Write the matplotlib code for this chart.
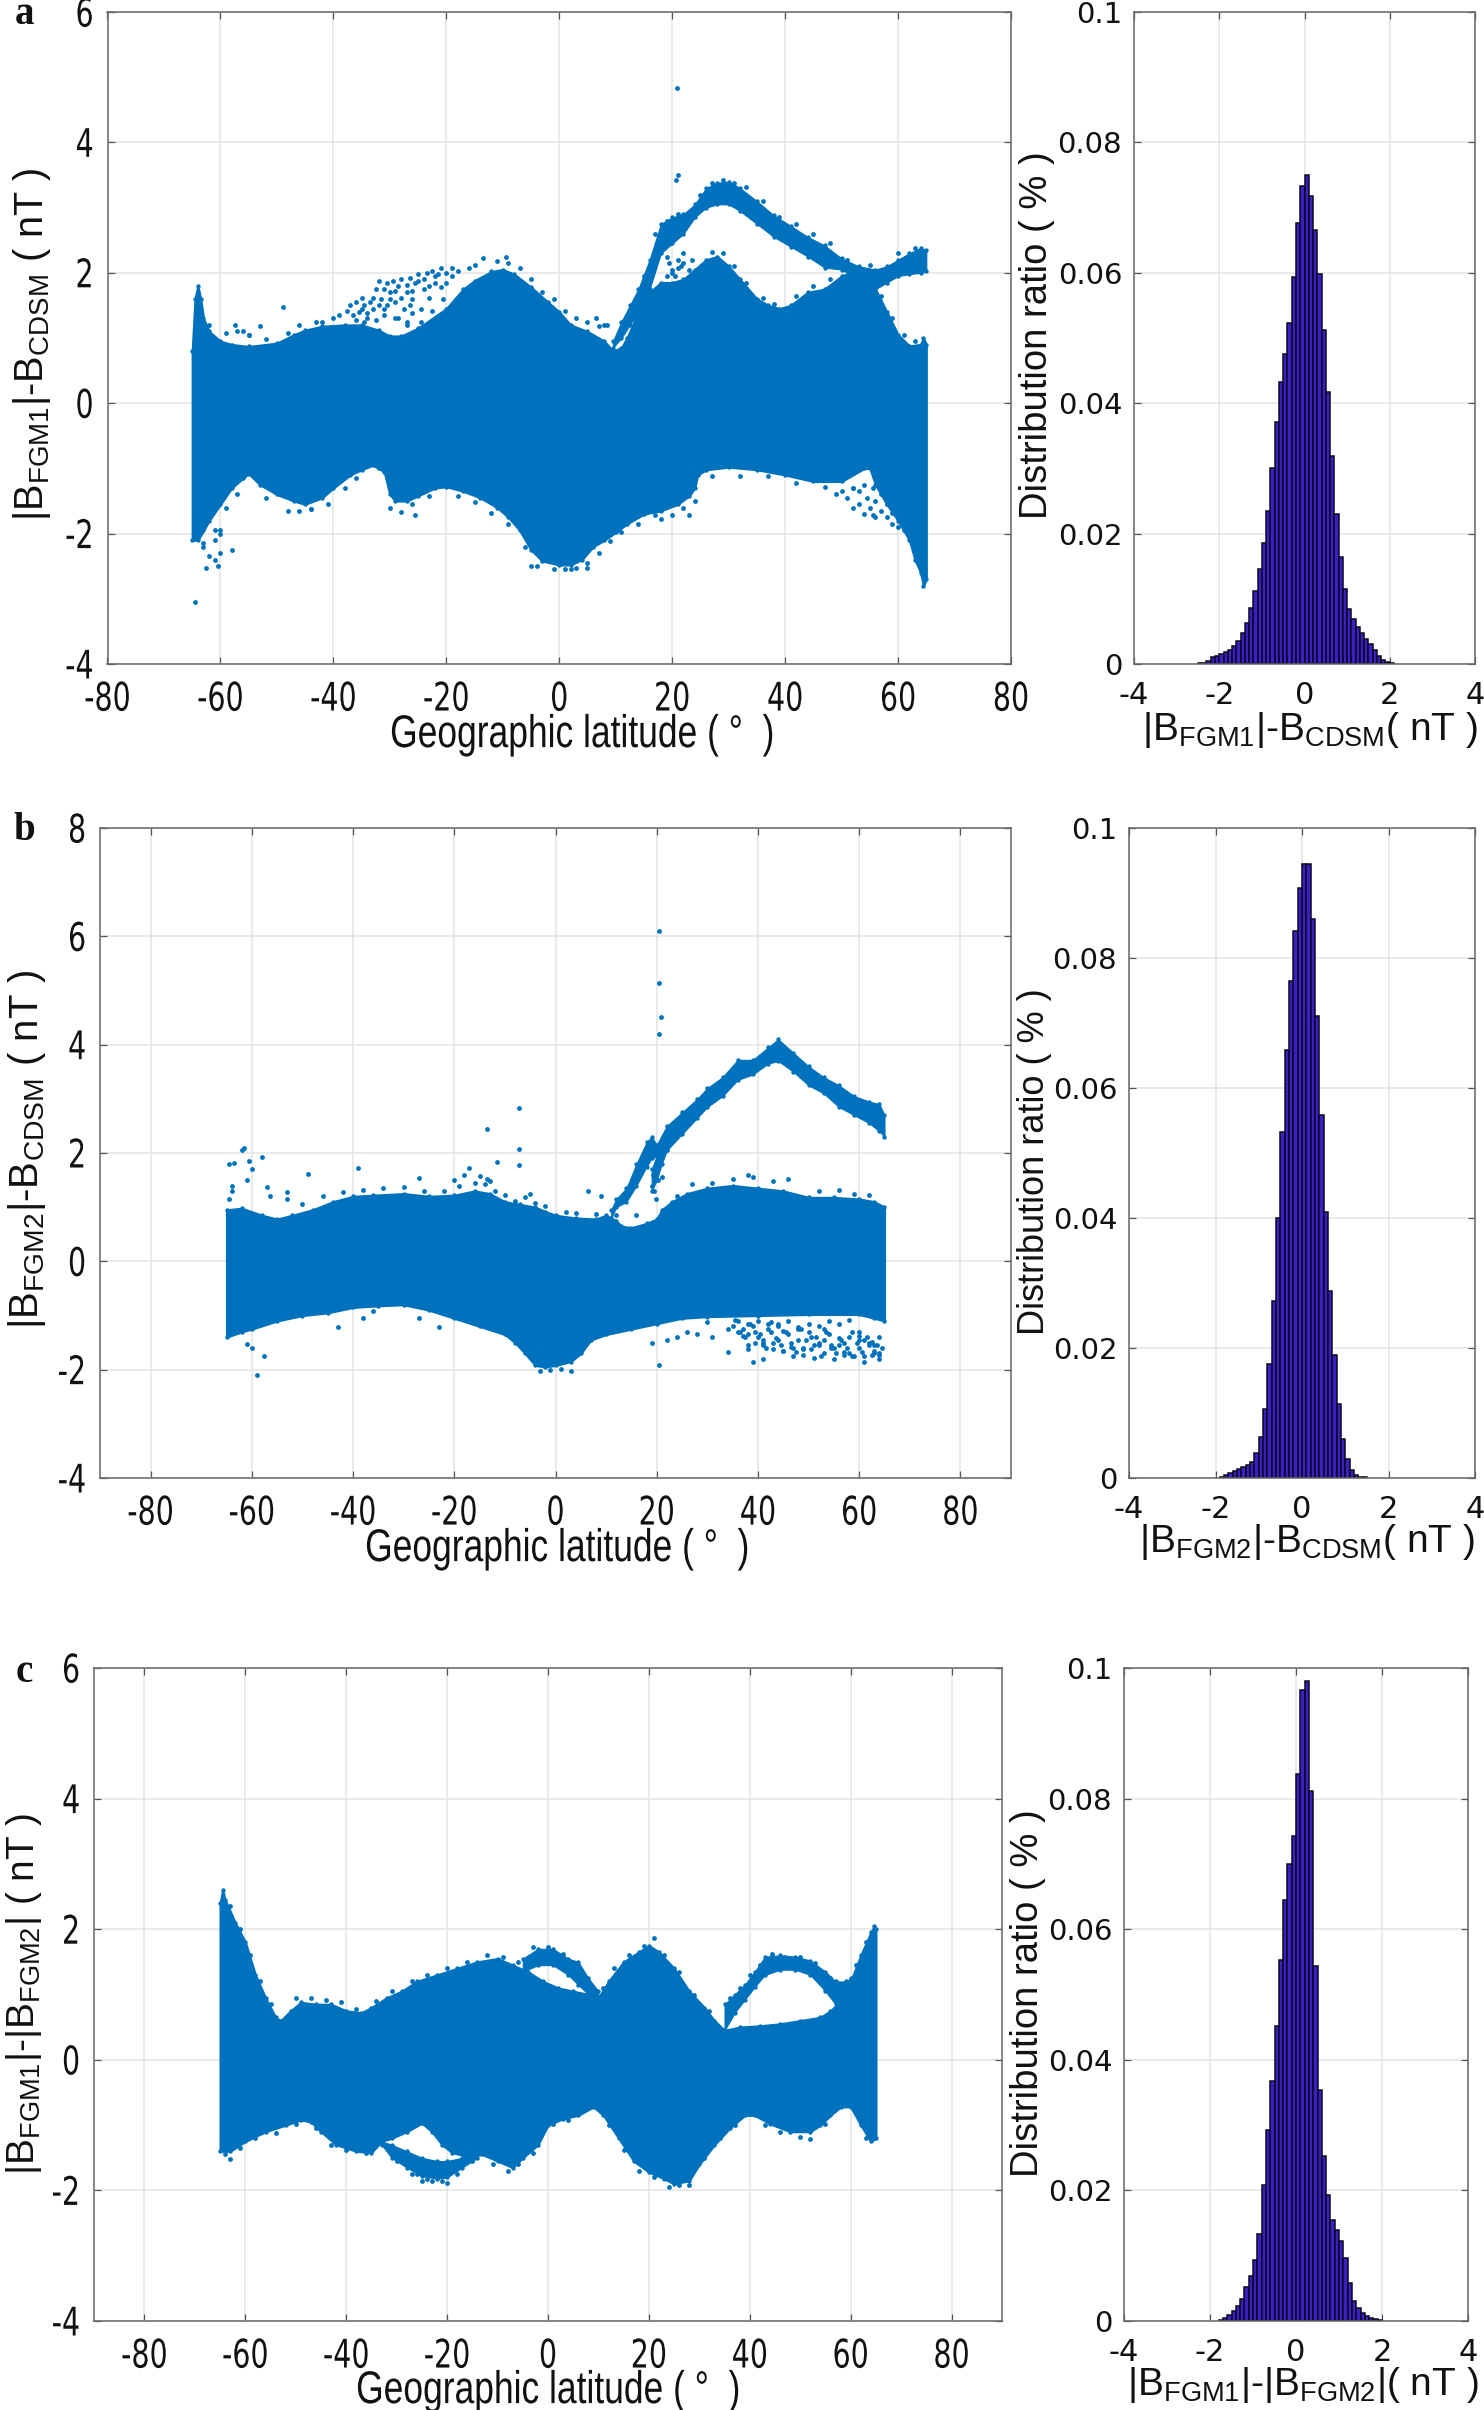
"""Latitude scatter envelopes and difference histograms (three panels)."""

import numpy as np
import matplotlib
matplotlib.use("Agg")
import matplotlib.pyplot as plt
from matplotlib.patheffects import AbstractPathEffect
from matplotlib.transforms import Affine2D

W, H = 1484, 2410
BLUE = "#0071BC"
BAR = "#3A1FC4"

plt.rcParams["mathtext.fontset"] = "custom"
plt.rcParams["mathtext.rm"] = "Liberation Sans"
plt.rcParams["mathtext.default"] = "rm"
plt.rcParams["axes.unicode_minus"] = False

# Panel a: main mass outline
a_up_lat = [-65, -64.5, -64, -63.5, -63, -62, -60, -58, -55, -50, -47, -45, -42, -38, -35, -32, -30, -28, -25, -20, -17, -15, -12, -10, -8, -5, -2, 0, 2, 5, 8, 9.5, 11, 12, 14, 16, 18, 20, 22, 24, 26, 28, 30, 32, 35, 37, 39, 41, 44, 47, 50, 52, 54, 56, 58, 60, 62, 64, 64.5, 65]
a_up = [0.8, 1.6, 1.8, 1.6, 1.3, 1.1, 0.95, 0.9, 0.87, 0.92, 1.05, 1.12, 1.18, 1.2, 1.2, 1.12, 1.03, 1.03, 1.15, 1.45, 1.75, 1.88, 2.02, 2.05, 1.98, 1.78, 1.55, 1.4, 1.2, 1.1, 0.95, 0.8, 0.85, 1.0, 1.4, 1.7, 1.85, 1.85, 1.9, 2.05, 2.2, 2.25, 2.1, 1.9, 1.6, 1.5, 1.45, 1.5, 1.7, 1.75, 1.95, 2.02, 1.95, 1.75, 1.4, 1.05, 0.88, 0.9, 1.0, 0.9]
a_lo_lat = [-65, -64, -63, -62, -60, -58, -56, -55, -53, -50, -47, -45, -42, -40, -37, -35, -33, -31, -30, -29, -27, -25, -22, -20, -17, -14, -11, -9, -7, -5, -3, 0, 2, 4, 6, 8, 10, 12, 15, 18, 21, 23, 24, 24.5, 26, 30, 35, 40, 45, 50, 54, 55, 56, 58, 60, 62, 63, 64, 64.5, 65]
a_lo = [-2.1, -2.1, -1.95, -1.8, -1.55, -1.3, -1.15, -1.08, -1.25, -1.4, -1.5, -1.55, -1.45, -1.3, -1.1, -1.02, -0.95, -1.05, -1.4, -1.5, -1.5, -1.42, -1.3, -1.28, -1.35, -1.45, -1.6, -1.75, -1.95, -2.25, -2.42, -2.48, -2.48, -2.4, -2.2, -2.1, -1.98, -1.85, -1.7, -1.65, -1.55, -1.42, -1.3, -1.1, -1.02, -0.98, -1.02, -1.1, -1.2, -1.2, -1.0, -1.0, -1.25, -1.55, -1.8, -2.1, -2.4, -2.6, -2.8, -2.7]

# Panel a: separated arc
a_arc_lat = [9.5, 11, 12.5, 14, 16, 18, 20, 22, 24, 26, 28, 30, 32, 35, 38, 41, 44, 47, 50, 53, 56, 58, 60, 62, 64, 65]
a_arc_hi = [0.95, 1.25, 1.5, 1.75, 2.2, 2.75, 2.85, 2.9, 3.05, 3.3, 3.38, 3.4, 3.3, 3.1, 2.88, 2.72, 2.55, 2.42, 2.22, 2.1, 2.05, 2.1, 2.2, 2.3, 2.38, 2.35]
a_arc_lo = [0.85, 1.0, 1.2, 1.4, 1.75, 2.3, 2.45, 2.6, 2.85, 3.0, 3.05, 3.05, 2.95, 2.75, 2.55, 2.4, 2.25, 2.08, 2.05, 1.9, 1.75, 1.85, 1.95, 1.98, 2.0, 2.02]

# Panel a: loose points
a_pts_lat = [21, 20.6, 20.8, -49, -53, -57.5, -56, -55, -64.5, -62, -62.5, -61, -60.5, -60, -60, -58, -42, -40, -39, -37.5, -37, -36.5, -36, -35.5, -35, -34.5, -34, -33.5, -33, -32.5, -32, -31.5, -31, -31, -30.5, -30, -29.5, -29, -28.5, -28, -27.5, -27, -27, -26.5, -26, -25.5, -25, -24.5, -24, -23.5, -23, -22.5, -22, -21.5, -21, -20, -19, -18, -16, -15, -13.5, -11, -9.5, -26, -27, -29, -46, -44, -30, -28, -25.5, -63, -61, -60, 19, 19.5, 20, 20.5, 21, 21.5, 22, 19, 20, 21, 22, 23, 23.5, 50, 51, 52, 53, 53, 54, 54.5, 55, 55.5, 56, 56, 57, 57, 58, 58, 59, 60, 23, 24, 18, 15, 12, -5, 2, 5, 6.5, 8,
             -62, -59, -57, -55, -52, -48, -46, -43, -9, -7, -5, -3, -1, 1, 3, 5, 7, 8.5, 27, 29, 31, 33, 36, 38, 42, 45, 48, 51, 55, 57, 59, 61, 63,
             -63, -61, -59, -57, -52, -48, -44, -41, -38, -36, -32, -26, -23, -18, -15, -12, -9, -6, -4, -1, 1, 3, 5, 7, 9, 11, 14, 17, 20, 22, 27, 32, 37, 42, 47, 52,
             15, 17, 19, 21, 25, 27, 29, 31, 33, 36, 39, 42, 45, 48, 51, 55, 60, 63,
             -36, -35, -34, -33, -32, -31, -30, -29, -28, -27, -26, -25, -24, -23, -22, -21, -20, -19, -34.5, -32.5, -30.5, -28.5, -26.5, -24.5, -22.5, -20.5, 49, 52, 54, 55.5, 57.5, 59, 61, 62]
a_pts_val = [3.5, 3.42, 4.83, 1.48, 1.18, 1.2, 1.1, 1.05, -3.05, -2.35, -2.52, -2.4, -2.5, -2.3, -2.0, -2.25, 1.25, 1.3, 1.35, 1.42, 1.5, 1.35, 1.55, 1.4, 1.62, 1.5, 1.3, 1.55, 1.45, 1.75, 1.87, 1.6, 1.75, 1.35, 1.85, 1.7, 1.88, 1.55, 1.8, 1.9, 1.45, 1.7, 1.25, 1.92, 1.6, 1.85, 1.98, 1.45, 1.75, 2.0, 1.62, 2.02, 1.85, 1.98, 2.07, 1.85, 2.08, 2.02, 2.07, 2.12, 2.22, 2.18, 2.25, 1.38, 1.2, 1.3, -1.65, -1.62, -1.6, -1.67, -1.72, -2.2, -2.1, -1.95, 2.25, 2.15, 2.05, 1.95, 2.2, 2.1, 2.3, 1.95, 2.0, 2.08, 2.15, 2.05, 2.2, -1.35, -1.45, -1.3, -1.55, -1.35, -1.7, -1.45, -1.6, -1.3, -1.75, -1.5, -1.65, -1.4, -1.75, -1.55, -1.85, -1.9, -1.72, -1.5, -1.78, -1.05, -1.3, -2.5, -2.55, -2.52, 1.3, 1.2,
             1.2, 1.08, 1.1, 1.05, 0.98, 1.08, 1.2, 1.25, 2.15, 2.08, 1.9, 1.7, 1.6, 1.42, 1.3, 1.25, 1.18, 1.2, 2.32, 2.3, 2.1, 1.85, 1.62, 1.52, 1.65, 1.8, 1.9, 2.08, 1.98, 1.65, 1.3, 1.05, 0.95,
             -2.15, -1.95, -1.6, -1.4, -1.45, -1.65, -1.62, -1.55, -1.3, -1.15, -1.0, -1.55, -1.42, -1.42, -1.52, -1.68, -1.85, -2.2, -2.5, -2.55, -2.55, -2.52, -2.45, -2.3, -2.12, -1.98, -1.85, -1.72, -1.72, -1.6, -1.12, -1.12, -1.12, -1.22, -1.28, -1.3,
             1.95, 2.6, 2.8, 2.9, 3.2, 3.38, 3.42, 3.38, 3.32, 3.1, 2.85, 2.75, 2.6, 2.45, 2.2, 2.12, 2.3, 2.38,
             1.28, 1.45, 1.38, 1.62, 1.5, 1.45, 1.6, 1.72, 1.62, 1.82, 1.72, 1.88, 1.9, 1.8, 1.95, 1.78, 2.0, 1.95, 1.25, 1.28, 1.5, 1.3, 1.5, 1.25, 1.42, 1.6, -1.4, -1.6, -1.25, -1.72, -1.3, -1.68, -1.95, -2.0]

# Panel a: histogram
a_bin = [-2.45, -2.35, -2.25, -2.15, -2.05, -1.95, -1.85, -1.75, -1.65, -1.55, -1.45, -1.35, -1.25, -1.15, -1.05, -0.95, -0.85, -0.75, -0.65, -0.55, -0.45, -0.35, -0.25, -0.15, -0.05, 0.05, 0.15, 0.25, 0.35, 0.45, 0.55, 0.65, 0.75, 0.85, 0.95, 1.05, 1.15, 1.25, 1.35, 1.45, 1.55, 1.65, 1.75, 1.85, 1.95, 2.05]
a_ratio = [0.0001, 0.0002, 0.0005, 0.001, 0.0013, 0.0015, 0.0018, 0.0021, 0.0028, 0.0035, 0.0048, 0.0063, 0.0086, 0.0112, 0.0145, 0.0186, 0.0235, 0.03, 0.0371, 0.0432, 0.0475, 0.0523, 0.0593, 0.0677, 0.0733, 0.075, 0.0718, 0.0666, 0.0598, 0.0512, 0.0417, 0.0319, 0.023, 0.0164, 0.0115, 0.0085, 0.0069, 0.0057, 0.0048, 0.0039, 0.003, 0.0021, 0.0012, 0.0006, 0.0003, 0.0001]

# Panel b: main mass outline
b_up_lat = [-65, -62, -58, -55, -52, -48, -44, -40, -36, -30, -25, -20, -16, -13, -10, -7, -4, -2, 0, 4, 8, 10, 12, 13, 15, 18, 20, 21, 23, 26, 30, 35, 40, 45, 50, 55, 60, 63, 65]
b_up = [0.95, 0.98, 0.85, 0.78, 0.85, 0.95, 1.1, 1.2, 1.22, 1.25, 1.2, 1.22, 1.3, 1.25, 1.1, 1.05, 1.0, 0.92, 0.85, 0.8, 0.78, 0.85, 0.75, 0.65, 0.62, 0.7, 0.78, 0.95, 1.1, 1.25, 1.35, 1.4, 1.35, 1.3, 1.18, 1.18, 1.15, 1.1, 1.0]
b_lo_lat = [-65, -62, -60, -55, -50, -45, -40, -35, -30, -25, -20, -15, -10, -8, -6, -4, -2, 0, 3, 5, 7, 10, 15, 20, 25, 30, 40, 50, 60, 63, 65]
b_lo = [-1.4, -1.3, -1.25, -1.1, -1.0, -0.95, -0.85, -0.82, -0.8, -0.9, -1.05, -1.2, -1.35, -1.5, -1.7, -1.92, -1.95, -1.92, -1.85, -1.7, -1.45, -1.35, -1.25, -1.15, -1.05, -1.02, -1.0, -0.98, -0.98, -1.05, -1.1]

# Panel b: separated arc and its second strand
b_arc_lat = [11, 12, 14, 16, 18, 19, 20, 22, 25, 28, 30, 33, 36, 39, 42, 44, 47, 50, 53, 56, 59, 62, 64, 65]
b_arc_hi = [0.95, 1.15, 1.35, 1.8, 2.2, 2.3, 2.15, 2.5, 2.75, 3.0, 3.2, 3.4, 3.72, 3.72, 3.95, 4.1, 3.85, 3.6, 3.4, 3.25, 3.05, 2.95, 2.9, 2.7]
b_arc_lo = [0.8, 1.0, 1.1, 1.4, 1.75, 1.9, 1.95, 2.05, 2.35, 2.65, 2.85, 3.05, 3.35, 3.45, 3.65, 3.7, 3.5, 3.25, 3.1, 2.85, 2.7, 2.55, 2.4, 2.3]
b_arc2_lat = [19, 20, 21, 22, 23]
b_arc2_hi = [1.7, 1.95, 2.2, 2.4, 2.5]
b_arc2_lo = [1.3, 1.5, 1.8, 2.05, 2.25]

# Panel b: loose points
b_pts_lat = [20.5, 20.4, 20.9, 20.4, -7.2, -7.3, -7.2, -13.5, -11.5, -61.5, -62, -63.5, -64, -64.5, -60.5, -58, -60, -61, -64, -64.5, -57, -56.5, -53, -53, -49, -39, -27, -20, -18, -17, -16, -15, -14, -13.5, -13, -5, 6.5, 9, 19, 19.2, 20.2, 19.4, 19.8, 21, -59, -57.5, -60, -61, -38, -36, -27, -23, -43, 20.5, 19, 22, 24, 26, 28, 31, 34, 38, 41, 36, 37, 38, 39, 40, 41, 42, 43, 44, 45, 46, 47, 48, 49, 50, 51, 52, 53, 54, 55, 56, 57, 58, 59, 60, 61, 62, 63, 64, 64.5, 36, 38, 40, 42, 44, 46, 48, 50, 52, 54, 56, 58, 60, 62, 63, 64, 39, 43, 47, 51, 55, 58, 61, 64, 41, 45, 49, 53, 57, 60, 63, 34, 30,
             35, 36.5, 37.5, 38.5, 39.5, 40.5, 41.5, 42.5, 43.5, 44.5, 45.5, 46.5, 47.5, 48.5, 49.5, 50.5, 51.5, 52.5, 53.5, 54.5, 55.5, 56.5, 57.5, 58.5, 59.5, 60.5, 61.5, 62.5, 63.5,
             35.5, 37, 38, 39.5, 41, 42.5, 44, 45, 46.5, 48, 49, 50.5, 52, 53, 54.5, 56, 57, 58.5, 60, 61, 62.5, 64,
             -50, -46, -42, -38, -34, -30, -26, -22, -19, -12, -10, -8, -6, -4, -2, 2, 4, 27, 31, 35, 38, 39, 43, 46, 52, 56, 59, 62, -3, -1, 1, 3, 8, 12, 16, 24]
b_pts_val = [6.1, 5.13, 4.52, 4.2, 2.83, 2.07, 1.77, 2.45, 1.83, 2.1, 2.05, 1.82, 1.3, 1.8, 1.85, 1.92, 1.7, 1.5, 1.4, 1.15, 1.38, 1.2, 1.28, 1.15, 1.62, 1.73, 1.53, 1.5, 1.6, 1.72, 1.45, 1.58, 1.42, 1.52, 1.48, 1.25, 1.3, 1.2, 1.4, 1.6, 1.5, 1.3, 1.15, 1.55, -2.1, -1.75, -1.6, -1.52, -1.05, -0.92, -1.05, -1.22, -1.22, -1.92, -1.5, -1.45, -1.4, -1.3, -1.35, -1.4, -1.68, -1.35, -1.45, -1.1, -1.25, -1.55, -1.2, -1.4, -1.8, -1.25, -1.5, -1.15, -1.65, -1.35, -1.75, -1.45, -1.6, -1.3, -1.78, -1.5, -1.7, -1.35, -1.8, -1.55, -1.72, -1.4, -1.75, -1.6, -1.85, -1.5, -1.65, -1.8, -1.6, -1.3, -1.15, -1.1, -1.15, -1.2, -1.1, -1.25, -1.15, -1.2, -1.1, -1.15, -1.08, -1.3, -1.55, -1.7, -1.4, -1.85, -1.62, -1.6, -1.55, -1.6, -1.7, -1.45, -1.72, -1.5, -1.65, -1.62, -1.45, -1.5, -1.38, -1.55, -1.25, -1.12,
             -1.2, -1.3, -1.4, -1.15, -1.5, -1.35, -1.6, -1.3, -1.42, -1.55, -1.3, -1.5, -1.68, -1.25, -1.45, -1.62, -1.4, -1.75, -1.3, -1.55, -1.7, -1.45, -1.6, -1.75, -1.5, -1.68, -1.4, -1.72, -1.55,
             -1.08, -1.38, -1.62, -1.3, -1.55, -1.12, -1.45, -1.28, -1.58, -1.22, -1.72, -1.4, -1.55, -1.25, -1.6, -1.42, -1.68, -1.3, -1.45, -1.75, -1.48, -1.7,
             1.05, 1.2, 1.28, 1.32, 1.35, 1.38, 1.3, 1.3, 1.4, 1.3, 1.22, 1.12, 1.18, 1.08, 1.02, 0.92, 0.9, 1.42, 1.45, 1.52, 1.6, 1.55, 1.48, 1.52, 1.3, 1.32, 1.25, 1.22, -2.02, -2.0, -1.98, -2.03, 0.88, 0.85, 0.85, 1.2]

# Panel b: histogram
b_bin = [-1.85, -1.75, -1.65, -1.55, -1.45, -1.35, -1.25, -1.15, -1.05, -0.95, -0.85, -0.75, -0.65, -0.55, -0.45, -0.35, -0.25, -0.15, -0.05, 0.05, 0.15, 0.25, 0.35, 0.45, 0.55, 0.65, 0.75, 0.85, 0.95, 1.05, 1.15, 1.25, 1.35, 1.45]
b_ratio = [0.0002, 0.0005, 0.0008, 0.0011, 0.0014, 0.0017, 0.002, 0.0025, 0.0038, 0.0063, 0.0106, 0.0176, 0.0273, 0.04, 0.0532, 0.0658, 0.0764, 0.0841, 0.0907, 0.0945, 0.0945, 0.086, 0.0711, 0.0559, 0.041, 0.0288, 0.019, 0.0114, 0.006, 0.0029, 0.0012, 0.0005, 0.0002, 0.0001]

# Panel c: main mass outline
c_up_lat = [-65, -64.5, -64, -62, -60, -58, -56, -54, -53, -51, -49, -46, -43, -40, -37, -35, -32, -29, -26, -22, -18, -14, -10, -7, -4, -1, 2, 5, 8, 10, 12, 15, 18, 20, 22, 25, 28, 31, 33, 35, 38, 42, 46, 50, 54, 56, 58, 60, 62, 64, 64.7, 65]
c_up = [2.4, 2.6, 2.45, 2.1, 1.8, 1.3, 0.95, 0.65, 0.6, 0.75, 0.88, 0.85, 0.85, 0.75, 0.72, 0.8, 0.95, 1.05, 1.2, 1.3, 1.4, 1.5, 1.55, 1.45, 1.35, 1.2, 1.1, 1.05, 1.0, 0.95, 1.2, 1.5, 1.65, 1.75, 1.65, 1.4, 1.05, 0.8, 0.6, 0.45, 0.5, 0.52, 0.55, 0.6, 0.65, 0.75, 0.9, 1.2, 1.6, 1.95, 2.05, 2.0]
c_lo_lat = [-65, -63, -60, -56, -52, -49, -47, -45, -42, -38, -35, -33, -31, -28, -25, -23, -21, -19, -16, -13, -10, -7, -5, -2, 0, 3, 6, 9, 11, 14, 17, 20, 23, 25, 28, 30, 33, 36, 39, 41, 44, 48, 52, 54, 56, 58, 60, 62, 64, 65]
c_lo = [-1.4, -1.4, -1.25, -1.1, -1.0, -0.92, -0.95, -1.1, -1.3, -1.4, -1.42, -1.25, -1.2, -1.1, -0.97, -1.1, -1.3, -1.42, -1.48, -1.45, -1.55, -1.65, -1.5, -1.3, -1.0, -0.9, -0.85, -0.72, -0.85, -1.2, -1.55, -1.72, -1.82, -1.9, -1.85, -1.6, -1.3, -1.05, -0.85, -0.85, -0.98, -1.1, -1.1, -1.0, -0.85, -0.72, -0.72, -1.0, -1.25, -1.2]

# Panel c: loops
c_loop1_lat = [35, 37, 39, 41, 43, 46, 49, 52, 55, 57, 59, 60]
c_loop1_hi = [0.85, 1.0, 1.15, 1.35, 1.58, 1.6, 1.58, 1.52, 1.35, 1.2, 1.2, 1.25]
c_loop1_lo = [0.45, 0.72, 0.92, 1.12, 1.3, 1.38, 1.38, 1.3, 1.05, 0.85, 0.9, 1.1]
c_loop2_lat = [-5, -2, 1, 4, 6, 8, 10]
c_loop2_hi = [1.55, 1.7, 1.7, 1.55, 1.5, 1.25, 1.05]
c_loop2_lo = [1.35, 1.45, 1.45, 1.3, 1.15, 1.0, 0.95]
c_loop3_lat = [-33, -31, -28, -25, -22, -20, -17, -14]
c_loop3_hi = [-1.25, -1.3, -1.4, -1.5, -1.55, -1.55, -1.5, -1.45]
c_loop3_lo = [-1.3, -1.5, -1.65, -1.78, -1.82, -1.8, -1.65, -1.5]

# Panel c: loose points
c_pts_lat = [-63, -61, -59, -57, -55, -50, -47, -44, -41, -38, -34, -31, -27, -24, -20, -16, -12, -9, -6, 11, 13, 16, 19, 21, 23, 26, 29, 32, 61, 63,
             -64, -63, -61, -58, -54, -50, -46, -43, -40, -36, -29, -27, -25, -23, -20, -18, -15, -11, -8, -6, -3, 1, 4, 12, 15, 18, 21, 24, 26, 28, 31, 34, 37, 43, 46, 50, 52, 55, 63,
             36, 38, 40, 42, 44.5, 47, 50, 53, 56, 58, -3, 0, 3, 5, 7, 9, -30, -26, -24, -21, -16]
c_pts_val = [2.35, 2.0, 1.6, 1.2, 0.85, 0.95, 0.95, 0.92, 0.88, 0.78, 0.9, 1.05, 1.2, 1.3, 1.4, 1.5, 1.6, 1.58, 1.5, 1.1, 1.4, 1.6, 1.75, 1.87, 1.6, 1.35, 1.0, 0.75, 1.45, 1.8,
             -1.45, -1.52, -1.35, -1.2, -1.12, -0.98, -1.05, -1.3, -1.38, -1.42, -1.55, -1.75, -1.85, -1.85, -1.88, -1.75, -1.55, -1.6, -1.7, -1.6, -1.42, -0.98, -0.92, -1.0, -1.38, -1.7, -1.8, -1.95, -1.92, -1.92, -1.5, -1.2, -1.0, -1.0, -1.1, -1.18, -1.22, -0.98, -1.2,
             0.95, 1.1, 1.3, 1.45, 1.62, 1.58, 1.58, 1.48, 1.25, 1.12, 1.72, 1.72, 1.62, 1.42, 1.3, 1.1, -1.55, -1.75, -1.82, -1.85, -1.55]

# Panel c: histogram
c_bin = [-1.75, -1.65, -1.55, -1.45, -1.35, -1.25, -1.15, -1.05, -0.95, -0.85, -0.75, -0.65, -0.55, -0.45, -0.35, -0.25, -0.15, -0.05, 0.05, 0.15, 0.25, 0.35, 0.45, 0.55, 0.65, 0.75, 0.85, 0.95, 1.05, 1.15, 1.25, 1.35, 1.45, 1.55, 1.65, 1.75, 1.85, 1.95]
c_ratio = [0.0001, 0.0005, 0.0009, 0.0015, 0.0023, 0.0034, 0.0052, 0.0069, 0.0093, 0.0133, 0.0209, 0.0293, 0.0368, 0.0452, 0.0553, 0.0645, 0.07, 0.0743, 0.0837, 0.0967, 0.098, 0.0812, 0.0544, 0.0354, 0.0253, 0.0193, 0.0154, 0.0139, 0.0123, 0.0096, 0.0058, 0.0031, 0.002, 0.0013, 0.0008, 0.0005, 0.0003, 0.0002]

# Tick labels
lat_ticks = [-80, -60, -40, -20, 0, 20, 40, 60, 80]
hist_xticks = [-4, -2, 0, 2, 4]
hist_yticks = [0, 0.02, 0.04, 0.06, 0.08, 0.1]
hist_ylabels = ["0", "0.02", "0.04", "0.06", "0.08", "0.1"]

fig = plt.figure(figsize=(W / 100, H / 100), dpi=100)
squeezed = []  # (text, sx, sy, right-anchored?)


class Squeeze(AbstractPathEffect):
    # the source figure has stretched text; scale glyphs about a fixed point
    def __init__(self, cx, cy, sx, sy):
        super().__init__()
        self.t = Affine2D().translate(-cx, -cy).scale(sx, sy).translate(cx, cy)

    def draw_path(self, renderer, gc, tpath, affine, rgbFace=None):
        renderer.draw_path(gc, tpath, affine + self.t, rgbFace)


def make_axes(x0, x1, y0, y1):
    ax = fig.add_axes([x0 / W, 1 - y1 / H, (x1 - x0) / W, (y1 - y0) / H])
    ax.set_axisbelow(True)
    ax.grid(True, color="#E4E4E4", lw=1.1)
    ax.tick_params(direction="in", length=5, width=0.9, color="#555555", top=True, right=True, labelcolor="#111111")
    for s in ax.spines.values():
        s.set_color("#666666")
        s.set_linewidth(1.1)
    return ax


def scatter_panel(box, xlim, ylim, yticks, up, lo, extras, pts):
    ax = make_axes(*box)
    ax.set_xlim(xlim)
    ax.set_ylim(ylim)
    ax.set_xticks(lat_ticks)
    ax.set_yticks(yticks)
    ax.tick_params(axis="y", labelsize=27, pad=10)
    ax.tick_params(axis="x", labelsize=27, pad=13)
    for t in ax.get_xticklabels():
        squeezed.append((t, 0.76, 1.05, False))
    for t in ax.get_yticklabels():
        squeezed.append((t, 0.76, 1.05, True))
    # lat grid merged from both outlines
    lat = np.union1d(up[0], lo[0])
    ax.fill_between(lat, np.interp(lat, up[0], up[1]), np.interp(lat, lo[0], lo[1]), color=BLUE, lw=1.6)
    ax.scatter(up[0], up[1], s=10, color=BLUE, lw=0)
    ax.scatter(lo[0], lo[1], s=10, color=BLUE, lw=0)
    for e_lat, e_hi, e_lo in extras:
        ax.fill_between(e_lat, e_hi, e_lo, color=BLUE, lw=0.8)
        ax.scatter(e_lat, e_hi, s=10, color=BLUE, lw=0)
        ax.scatter(e_lat, e_lo, s=10, color=BLUE, lw=0)
    ax.scatter(pts[0], pts[1], s=12, color=BLUE, lw=0)
    return ax


def hist_panel(box, bins, ratio):
    ax = make_axes(*box)
    ax.bar(bins, ratio, width=0.1, color=BAR, edgecolor="#0A0A20", linewidth=1.1)
    ax.set_xlim(-4, 4)
    ax.set_ylim(0, 0.1)
    ax.set_xticks(hist_xticks)
    ax.set_yticks(hist_yticks)
    ax.set_yticklabels(hist_ylabels)
    ax.tick_params(axis="x", labelsize=22, pad=12)
    ax.tick_params(axis="y", labelsize=21, pad=8.5)
    return ax


def label(x, y, s, size=28, rot=0, family="Liberation Sans", sx=1, sy=1, **kw):
    t = fig.text(x / W, 1 - y / H, s, fontsize=size, rotation=rot, family=family,
                 ha="center", va="center", color="#111111", **kw)
    if sx != 1 or sy != 1:
        squeezed.append((t, sx, sy, False))
    return t


# a
scatter_panel((107.5, 1011, 12, 664), (-80, 80), (-4, 6), [-4, -2, 0, 2, 4, 6],
              (a_up_lat, a_up), (a_lo_lat, a_lo), [(a_arc_lat, a_arc_hi, a_arc_lo)], (a_pts_lat, a_pts_val))
hist_panel((1134, 1475, 12, 664), a_bin, a_ratio)
label(24, 14, "a", 28, family="Liberation Serif", fontweight="bold")
label(582, 735, "Geographic latitude ( °  )", 30, sx=0.85, sy=1.1)
label(32, 344, r"|B$_{FGM1}$|-B$_{CDSM}$ ( nT )", 28.5, rot=90)
label(1037, 335, "Distribution ratio ( % )", 27.5, rot=90)
label(1310, 730, r"|B$_{FGM1}$|-B$_{CDSM}$( nT )", 28)

# b
scatter_panel((100, 1011, 828, 1478), (-90, 90), (-4, 8), [-4, -2, 0, 2, 4, 6, 8],
              (b_up_lat, b_up), (b_lo_lat, b_lo),
              [(b_arc_lat, b_arc_hi, b_arc_lo), (b_arc2_lat, b_arc2_hi, b_arc2_lo)], (b_pts_lat, b_pts_val))
hist_panel((1129, 1475, 828, 1478), b_bin, b_ratio)
label(24, 830, "b", 28, family="Liberation Serif", fontweight="bold")
label(557, 1549, "Geographic latitude ( °  )", 30, sx=0.85, sy=1.1)
label(27, 1150, r"|B$_{FGM2}$|-B$_{CDSM}$ ( nT )", 29, rot=90)
label(1035, 1162, "Distribution ratio ( % )", 26, rot=90)
label(1307, 1542, r"|B$_{FGM2}$|-B$_{CDSM}$( nT )", 28)

# c
scatter_panel((94, 1002, 1668, 2321), (-90, 90), (-4, 6), [-4, -2, 0, 2, 4, 6],
              (c_up_lat, c_up), (c_lo_lat, c_lo),
              [(c_loop1_lat, c_loop1_hi, c_loop1_lo), (c_loop2_lat, c_loop2_hi, c_loop2_lo), (c_loop3_lat, c_loop3_hi, c_loop3_lo)],
              (c_pts_lat, c_pts_val))
hist_panel((1124, 1468, 1668, 2321), c_bin, c_ratio)
label(24, 1672, "c", 28, family="Liberation Serif", fontweight="bold")
label(548, 2391, "Geographic latitude ( °  )", 30, sx=0.85, sy=1.1)
label(24, 1994, r"|B$_{FGM1}$|-|B$_{FGM2}$| ( nT )", 28, rot=90)
label(1028, 1993, "Distribution ratio ( % )", 27.5, rot=90)
label(1303, 2385, r"|B$_{FGM1}$|-|B$_{FGM2}$|( nT )", 28)

# layout first, then squeeze about each text's own box
fig.canvas.draw()
rend = fig.canvas.get_renderer()
for t, sx, sy, right in squeezed:
    bb = t.get_window_extent(rend)
    cx = bb.x1 if right else (bb.x0 + bb.x1) / 2
    t.set_path_effects([Squeeze(cx, (bb.y0 + bb.y1) / 2, sx, sy)])

fig.savefig("out.png", dpi=100)
